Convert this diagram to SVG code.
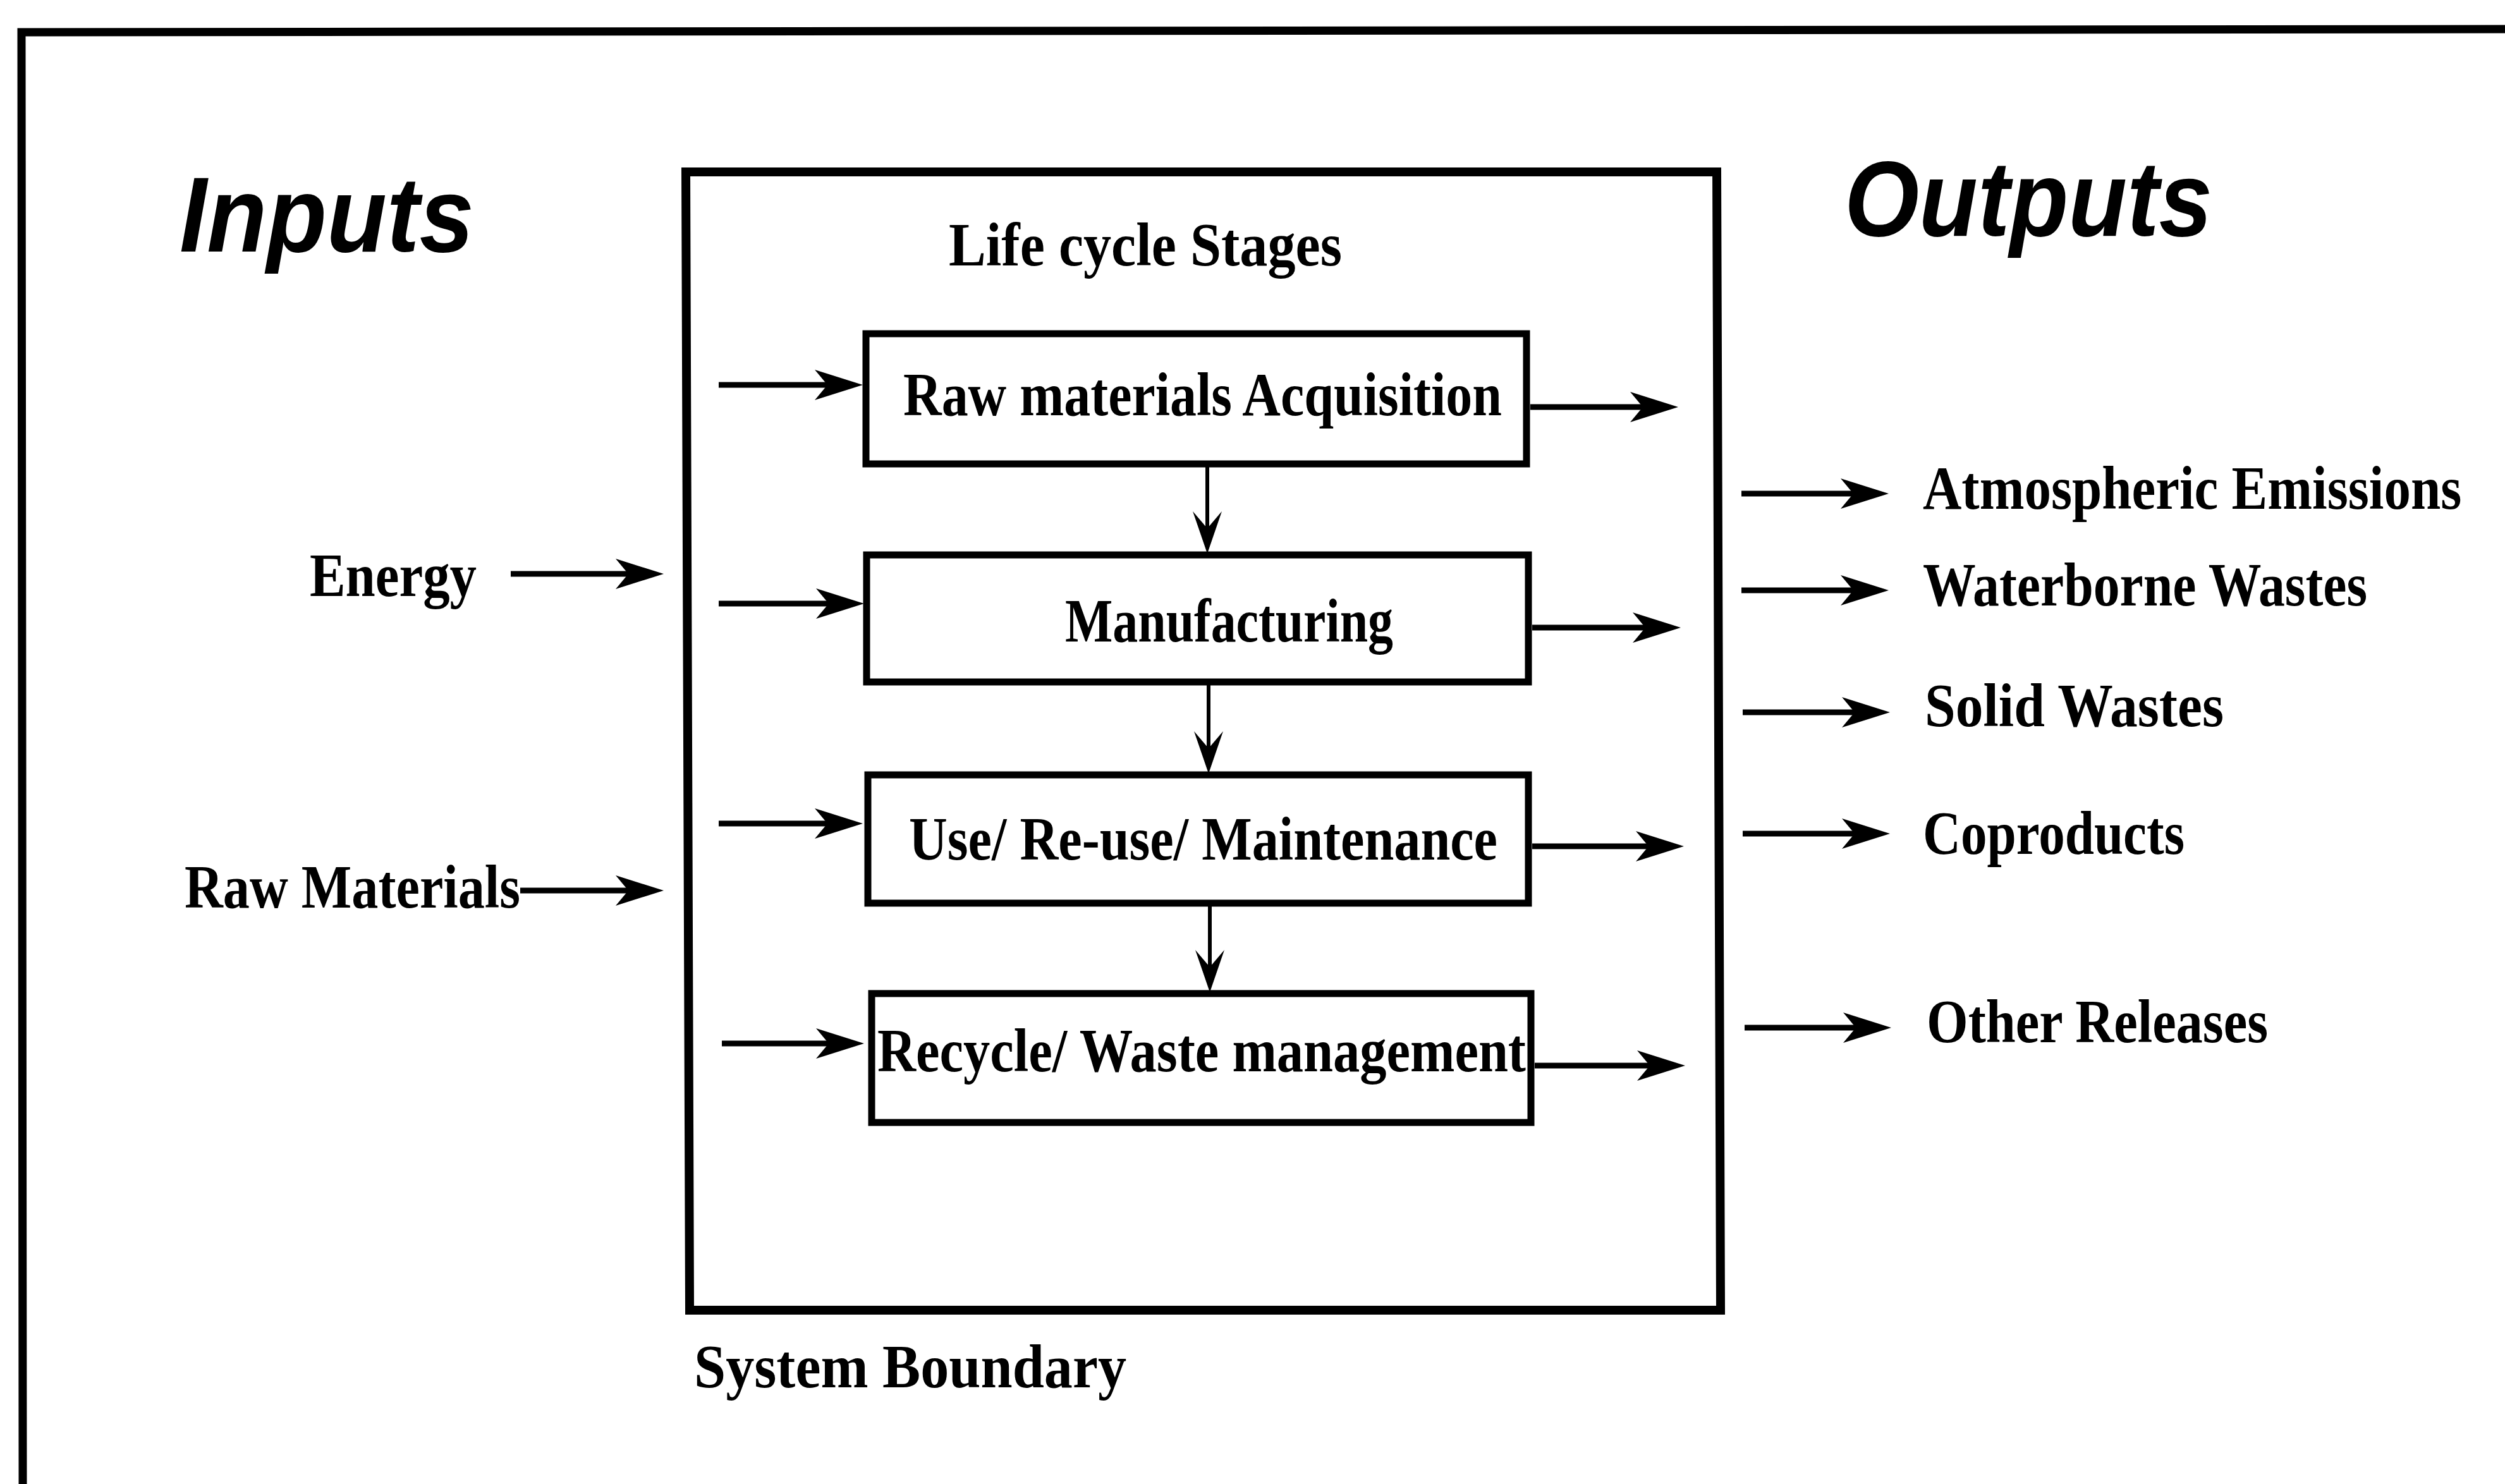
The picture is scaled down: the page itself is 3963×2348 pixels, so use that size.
<svg xmlns="http://www.w3.org/2000/svg" width="3963" height="2348" viewBox="0 0 3963 2348">
  <style>
    .frame { fill: none; stroke: #000; stroke-linejoin: miter; }
    .stage { fill: #fff; stroke: #000; stroke-width: 11; }
    .flow { fill: none; stroke: #000; stroke-width: 9; }
    .down { fill: none; stroke: #000; stroke-width: 6; }
    .lbl { font-family: "Liberation Serif", "Times New Roman", serif; font-weight: bold; font-size: 98px; fill: #000; }
    .head { font-family: "Liberation Sans", Arial, sans-serif; font-weight: bold; font-style: italic; font-size: 168px; fill: #000; }
  </style>
  <defs>
    <!-- barbed arrowhead; origin sits at the notch, tip 56 units ahead -->
    <marker id="barb" markerUnits="userSpaceOnUse" viewBox="-25 -30 85 60" refX="0" refY="0" markerWidth="85" markerHeight="60" orient="auto" overflow="visible">
      <path d="M56,0 L-20,-24 L0,0 L-20,24 Z" fill="#000"/>
    </marker>
    <marker id="barbDown" markerUnits="userSpaceOnUse" viewBox="-30 -30 80 60" refX="0" refY="0" markerWidth="80" markerHeight="60" orient="auto" overflow="visible">
      <path d="M40,0 L-27,-23 L0,0 L-27,23 Z" fill="#000"/>
    </marker>
  </defs>

  <rect x="0" y="0" width="3963" height="2348" fill="#fff"/>

  <!-- outer page frame (top and left edges only) -->
  <path class="frame" stroke-width="13" d="M36,2348 L34,51 L3963,46"/>

  <g id="title-inputs">
    <text class="head" x="284" y="398" textLength="466" lengthAdjust="spacingAndGlyphs">Inputs</text>
  </g>
  <g id="title-outputs">
    <text class="head" x="2918" y="373" textLength="582" lengthAdjust="spacingAndGlyphs">Outputs</text>
  </g>

  <!-- system boundary -->
  <g id="system-boundary">
    <path class="frame" stroke-width="14" d="M1085,272 L2716,272 L2722,2073 L1091,2073 Z"/>
    <text class="lbl" x="1098" y="2195" font-size="106" textLength="684" lengthAdjust="spacingAndGlyphs">System Boundary</text>
  </g>

  <g id="stages-title">
    <text class="lbl" x="1501" y="420" textLength="622" lengthAdjust="spacingAndGlyphs">Life cycle Stages</text>
  </g>

  <!-- life cycle stages -->
  <g id="stage-raw">
    <rect class="stage" x="1370" y="528" width="1045" height="206"/>
    <text class="lbl" x="1429" y="657" textLength="947" lengthAdjust="spacingAndGlyphs">Raw materials Acquisition</text>
  </g>
  <g id="stage-manufacturing">
    <rect class="stage" x="1371" y="878" width="1047" height="201"/>
    <text class="lbl" x="1685" y="1015" textLength="519" lengthAdjust="spacingAndGlyphs">Manufacturing</text>
  </g>
  <g id="stage-use">
    <rect class="stage" x="1373" y="1226" width="1045" height="203"/>
    <text class="lbl" x="1438" y="1360" textLength="931" lengthAdjust="spacingAndGlyphs">Use/ Re-use/ Maintenance</text>
  </g>
  <g id="stage-recycle">
    <rect class="stage" x="1379" y="1572" width="1043" height="204"/>
    <text class="lbl" x="1388" y="1695" textLength="1026" lengthAdjust="spacingAndGlyphs">Recycle/ Waste management</text>
  </g>

  <!-- input labels -->
  <g id="input-energy">
    <text class="lbl" x="490" y="943" textLength="264" lengthAdjust="spacingAndGlyphs">Energy</text>
  </g>
  <g id="input-raw-materials">
    <text class="lbl" x="292" y="1436" textLength="531" lengthAdjust="spacingAndGlyphs">Raw Materials</text>
  </g>

  <!-- output labels -->
  <g id="out-atmospheric">
    <text class="lbl" transform="translate(3042 805) scale(0.867 1)" x="0" y="0" textLength="983" lengthAdjust="spacingAndGlyphs">Atmospheric Emissions</text>
  </g>
  <g id="out-waterborne">
    <text class="lbl" x="3042" y="958" textLength="703" lengthAdjust="spacingAndGlyphs">Waterborne Wastes</text>
  </g>
  <g id="out-solid">
    <text class="lbl" x="3045" y="1149" textLength="473" lengthAdjust="spacingAndGlyphs">Solid Wastes</text>
  </g>
  <g id="out-coproducts">
    <text class="lbl" x="3042" y="1351" textLength="414" lengthAdjust="spacingAndGlyphs">Coproducts</text>
  </g>
  <g id="out-other">
    <text class="lbl" x="3048" y="1649" textLength="540" lengthAdjust="spacingAndGlyphs">Other Releases</text>
  </g>

  <!-- connectors -->
  <g id="connectors">
    <!-- inputs to the system -->
    <line class="flow" x1="808" y1="908" x2="994" y2="908" marker-end="url(#barb)"/>
    <line class="flow" x1="823" y1="1409" x2="994" y2="1409" marker-end="url(#barb)"/>
    <!-- into each stage -->
    <line class="flow" x1="1137" y1="609" x2="1309" y2="609" marker-end="url(#barb)"/>
    <line class="flow" x1="1137" y1="955" x2="1311" y2="955" marker-end="url(#barb)"/>
    <line class="flow" x1="1137" y1="1303" x2="1309" y2="1303" marker-end="url(#barb)"/>
    <line class="flow" x1="1142" y1="1651" x2="1311" y2="1651" marker-end="url(#barb)"/>
    <!-- out of each stage -->
    <line class="flow" x1="2421" y1="644" x2="2599" y2="644" marker-end="url(#barb)"/>
    <line class="flow" x1="2424" y1="993" x2="2603" y2="993" marker-end="url(#barb)"/>
    <line class="flow" x1="2424" y1="1339" x2="2608" y2="1339" marker-end="url(#barb)"/>
    <line class="flow" x1="2428" y1="1686" x2="2610" y2="1686" marker-end="url(#barb)"/>
    <!-- stage to stage -->
    <line class="down" x1="1910" y1="734" x2="1910" y2="836" marker-end="url(#barbDown)"/>
    <line class="down" x1="1912" y1="1079" x2="1912" y2="1184" marker-end="url(#barbDown)"/>
    <line class="down" x1="1914" y1="1429" x2="1914" y2="1530" marker-end="url(#barbDown)"/>
    <!-- released outputs -->
    <line class="flow" x1="2755" y1="781" x2="2932" y2="781" marker-end="url(#barb)"/>
    <line class="flow" x1="2755" y1="934" x2="2932" y2="934" marker-end="url(#barb)"/>
    <line class="flow" x1="2757" y1="1127" x2="2934" y2="1127" marker-end="url(#barb)"/>
    <line class="flow" x1="2757" y1="1319" x2="2934" y2="1319" marker-end="url(#barb)"/>
    <line class="flow" x1="2760" y1="1626" x2="2936" y2="1626" marker-end="url(#barb)"/>
  </g>
</svg>
